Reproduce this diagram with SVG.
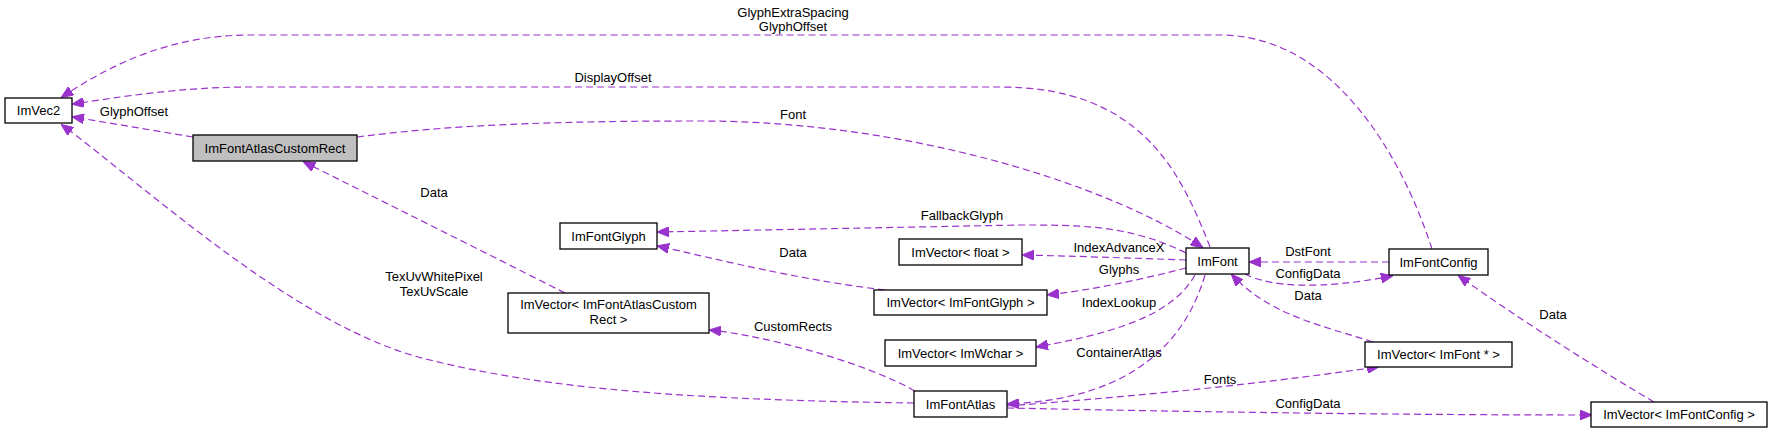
<svg xmlns="http://www.w3.org/2000/svg" width="1772" height="433" viewBox="0 0 1772 433">
<style>
.n rect{fill:#fff;stroke:#000;stroke-width:1.3}
.n text,.l{font-family:"Liberation Sans",Arial,sans-serif;font-size:13px;fill:#000;text-anchor:middle}
.e path{fill:none;stroke:#9a32cd;stroke-width:1.2;stroke-dasharray:7,4;marker-end:url(#a)}
</style>
<defs><marker id="a" markerWidth="12" markerHeight="10" refX="11" refY="5" orient="auto" markerUnits="userSpaceOnUse"><path d="M0,0L12,5L0,10z" fill="#9a32cd" stroke="#9a32cd"/></marker></defs>
<g class="e">
<path d="M1432,249C1400,150 1330,35 1220,35L250,35C170,35 110,65 62,97"/>
<path d="M1210,247C1180,170 1140,87 1000,87L250,87C180,87 120,97 73,104"/>
<path d="M193,137C150,130 110,123 73,117"/>
<path d="M357,137C450,125 550,121 700,121C900,121 1100,180 1202,247"/>
<path d="M565,293C480,250 380,200 304,162"/>
<path d="M914,403C700,400 550,390 430,360C300,330 150,190 62,125"/>
<path d="M1186,253C1130,225 1080,225 1020,225L658,232"/>
<path d="M885,290C800,280 720,260 658,246"/>
<path d="M1186,260C1130,258 1070,256 1023,255"/>
<path d="M1186,268C1140,280 1090,290 1048,295"/>
<path d="M1195,275C1170,320 1100,335 1037,347"/>
<path d="M1205,275C1180,360 1110,400 1008,404"/>
<path d="M915,391C860,360 760,335 710,330"/>
<path d="M1389,262C1340,262 1290,262 1250,262"/>
<path d="M1245,274C1270,287 1320,290 1392,276"/>
<path d="M1373,342C1320,325 1270,315 1232,275"/>
<path d="M1007,406C1150,395 1250,385 1378,367"/>
<path d="M1007,408C1200,412 1400,415 1591,415"/>
<path d="M1654,402C1600,370 1520,320 1459,276"/>
</g>
<g class="l">
<text x="793" y="17">GlyphExtraSpacing</text>
<text x="793" y="31">GlyphOffset</text>
<text x="613" y="82">DisplayOffset</text>
<text x="134" y="116">GlyphOffset</text>
<text x="793" y="119">Font</text>
<text x="434" y="197">Data</text>
<text x="962" y="220">FallbackGlyph</text>
<text x="1119" y="252">IndexAdvanceX</text>
<text x="793" y="257">Data</text>
<text x="1308" y="256">DstFont</text>
<text x="1119" y="274">Glyphs</text>
<text x="1308" y="278">ConfigData</text>
<text x="434" y="281">TexUvWhitePixel</text>
<text x="434" y="296">TexUvScale</text>
<text x="1308" y="300">Data</text>
<text x="1119" y="307">IndexLookup</text>
<text x="1553" y="319">Data</text>
<text x="793" y="331">CustomRects</text>
<text x="1119" y="357">ContainerAtlas</text>
<text x="1220" y="384">Fonts</text>
<text x="1308" y="408">ConfigData</text>
</g>
<g id="ImVec2" class="n"><rect x="5" y="98" width="67" height="25"/><text x="38.5" y="115">ImVec2</text></g>
<g id="ImFontAtlasCustomRect" class="n"><rect x="193" y="135" width="164" height="26" style="fill:#bfbfbf"/><text x="275" y="153">ImFontAtlasCustomRect</text></g>
<g id="ImFontGlyph" class="n"><rect x="560" y="223" width="97" height="26"/><text x="608.5" y="241">ImFontGlyph</text></g>
<g id="ImVectorFloat" class="n"><rect x="899" y="239" width="123" height="26"/><text x="960.5" y="257">ImVector&lt; float &gt;</text></g>
<g id="ImVectorImFontGlyph" class="n"><rect x="874" y="290" width="173" height="25"/><text x="960.5" y="307">ImVector&lt; ImFontGlyph &gt;</text></g>
<g id="ImVectorCustomRect" class="n"><rect x="508" y="293" width="201" height="40"/><text x="608.5" y="309">ImVector&lt; ImFontAtlasCustom</text><text x="608.5" y="324">Rect &gt;</text></g>
<g id="ImVectorImWchar" class="n"><rect x="885" y="340" width="151" height="26"/><text x="960.5" y="358">ImVector&lt; ImWchar &gt;</text></g>
<g id="ImFontAtlas" class="n"><rect x="914" y="391" width="93" height="26"/><text x="960.5" y="409">ImFontAtlas</text></g>
<g id="ImFont" class="n"><rect x="1186" y="248" width="63" height="26"/><text x="1217.5" y="266">ImFont</text></g>
<g id="ImFontConfig" class="n"><rect x="1389" y="249" width="99" height="26"/><text x="1438.5" y="267">ImFontConfig</text></g>
<g id="ImVectorImFontPtr" class="n"><rect x="1365" y="342" width="147" height="25"/><text x="1438.5" y="359">ImVector&lt; ImFont * &gt;</text></g>
<g id="ImVectorImFontConfig" class="n"><rect x="1591" y="402" width="176" height="25"/><text x="1679" y="419">ImVector&lt; ImFontConfig &gt;</text></g>
</svg>
